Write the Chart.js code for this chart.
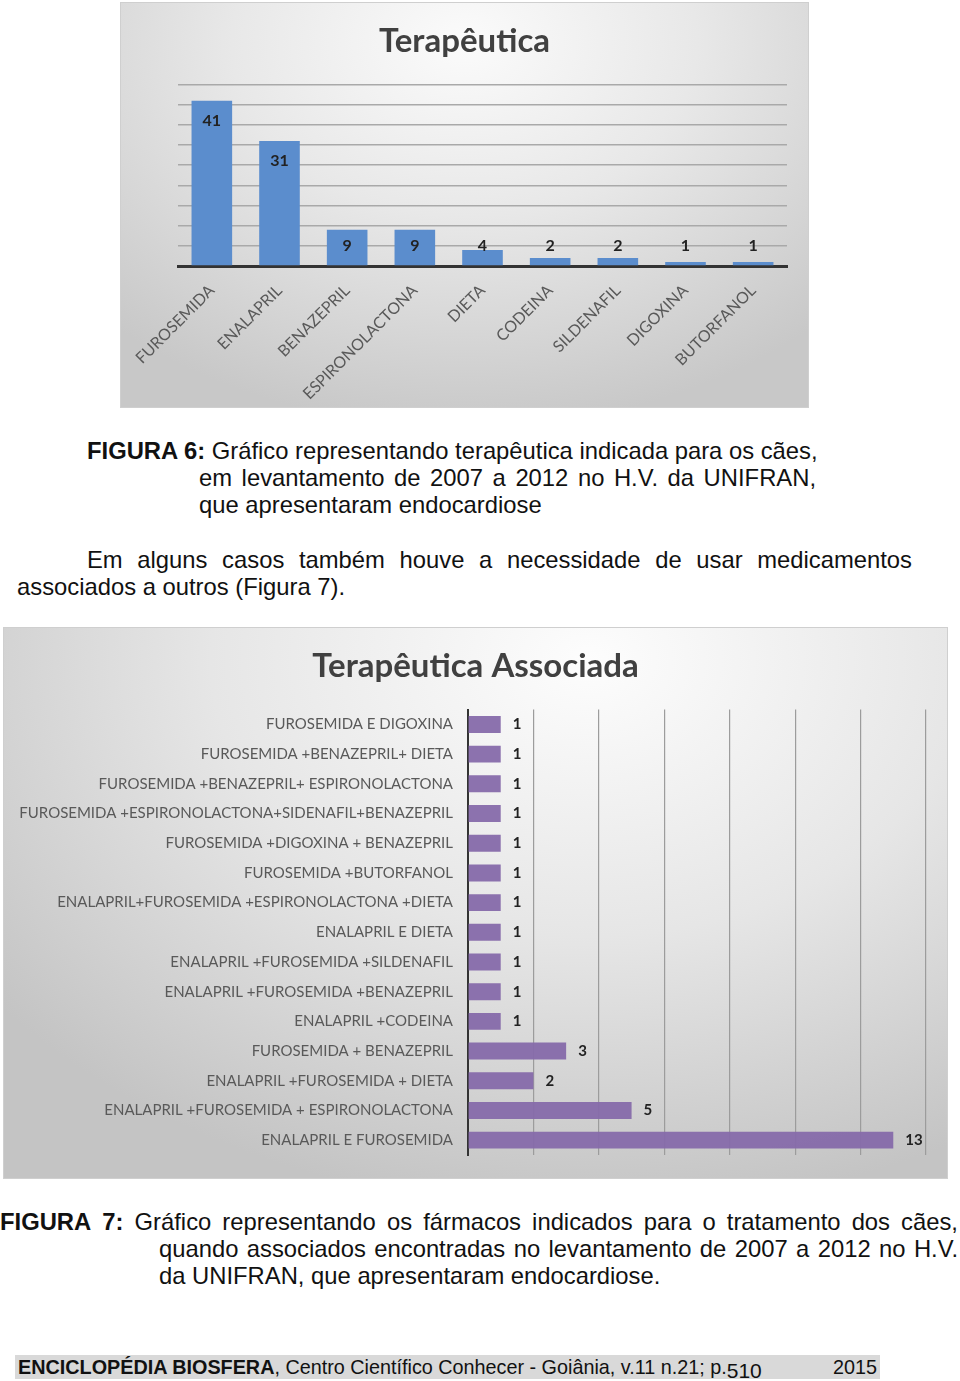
<!DOCTYPE html>
<html lang="pt">
<head>
<meta charset="utf-8">
<title>Terapêutica</title>
<script src="https://cdn.jsdelivr.net/npm/chart.js@4.4.1/dist/chart.umd.min.js"></script>
<style>
  body { margin:0; width:960px; height:1381px; background:#fff; position:relative; overflow:hidden;
         font-family:"Liberation Sans", Arial, sans-serif; color:#111; }
  .box { position:absolute; box-shadow: inset 0 0 0 1px #cfcfcf; }
  #box1 { left:120px; top:2px; width:689px; height:406px;
          background: radial-gradient(ellipse 75% 95% at 50% 10%, #fbfbfb 0%, #e8e8e8 45%, #c8c8c8 100%); }
  #box2 { left:3px; top:627px; width:945px; height:552px;
          background: radial-gradient(ellipse 80% 100% at 62% 6%, #fdfdfd 0%, #e6e6e6 50%, #c4c4c4 100%); }
  .line { position:absolute; font-size:23.8px; line-height:27px; white-space:nowrap; }
  .just { text-align:justify; text-align-last:justify; white-space:normal; height:27px; overflow:hidden; }
  #footer { position:absolute; left:15px; top:1355px; width:865px; height:24px; background:#d9d9d9;
            font-size:19.8px; line-height:24px; white-space:nowrap; }
</style>
</head>
<body>

<div class="box" id="box1"><canvas id="terapeuticaChart" width="689" height="406"></canvas></div>

<div class="line" style="left:87px; top:437px;"><b>FIGURA 6:</b> Gráfico representando terapêutica indicada para os cães,</div>
<div class="line just" style="left:199px; top:464px; width:617px;">em levantamento de 2007 a 2012 no H.V. da UNIFRAN,</div>
<div class="line" style="left:199px; top:491px;">que apresentaram endocardiose</div>
<div class="line just" style="left:87px; top:546px; width:825px;">Em alguns casos também houve a necessidade de usar medicamentos</div>
<div class="line" style="left:17px; top:573px;">associados a outros (Figura 7).</div>

<div class="box" id="box2"><canvas id="associadaChart" width="945" height="552"></canvas></div>

<div class="line just" style="left:0px; top:1208px; width:958px;"><b>FIGURA</b> <b>7:</b> Gráfico representando os fármacos indicados para o tratamento dos cães,</div>
<div class="line just" style="left:159px; top:1235px; width:799px;">quando associados encontradas no levantamento de 2007 a 2012 no H.V.</div>
<div class="line" style="left:159px; top:1262px;">da UNIFRAN, que apresentaram endocardiose.</div>

<div id="footer"><span style="position:absolute; left:3px;"><b>ENCICLOPÉDIA BIOSFERA</b>, Centro Científico Conhecer - Goiânia, v.11 n.21; p.<span style="font-size:21px; position:relative; top:4px;">510</span></span><span style="position:absolute; left:818px;">2015</span></div>

<script>
// --- DADOS ---
const drugs = ['FUROSEMIDA', 'ENALAPRIL', 'BENAZEPRIL', 'ESPIRONOLACTONA', 'DIETA', 'CODEINA', 'SILDENAFIL', 'DIGOXINA', 'BUTORFANOL'];
const drugCounts = [41, 31, 9, 9, 4, 2, 2, 1, 1];
const drugAxisMax = 45;
const drugAxisStep = 5;

const combos = [
  'FUROSEMIDA E DIGOXINA',
  'FUROSEMIDA +BENAZEPRIL+ DIETA',
  'FUROSEMIDA +BENAZEPRIL+ ESPIRONOLACTONA',
  'FUROSEMIDA +ESPIRONOLACTONA+SIDENAFIL+BENAZEPRIL',
  'FUROSEMIDA +DIGOXINA + BENAZEPRIL',
  'FUROSEMIDA +BUTORFANOL',
  'ENALAPRIL+FUROSEMIDA +ESPIRONOLACTONA +DIETA',
  'ENALAPRIL E DIETA',
  'ENALAPRIL +FUROSEMIDA +SILDENAFIL',
  'ENALAPRIL +FUROSEMIDA +BENAZEPRIL',
  'ENALAPRIL +CODEINA',
  'FUROSEMIDA + BENAZEPRIL',
  'ENALAPRIL +FUROSEMIDA + DIETA',
  'ENALAPRIL +FUROSEMIDA + ESPIRONOLACTONA',
  'ENALAPRIL E FUROSEMIDA'
];
const comboCounts = [1, 1, 1, 1, 1, 1, 1, 1, 1, 1, 1, 3, 2, 5, 13];
const comboAxisMax = 14;
const comboAxisStep = 2;

// rótulos de valor nas barras
const valueLabels = {
  id: 'valueLabels',
  afterDatasetsDraw(chart, args, opts) {
    const ctx = chart.ctx;
    const meta = chart.getDatasetMeta(0);
    const vals = chart.data.datasets[0].data;
    ctx.save();
    ctx.font = opts.font;
    ctx.fillStyle = opts.color;
    ctx.textBaseline = 'middle';
    meta.data.forEach(function(bar, i) {
      if (opts.mode === 'inside') {
        ctx.textAlign = 'center';
        ctx.fillText(vals[i], bar.x, Math.min(bar.y + opts.offset, bar.base - opts.minGap));
      } else {
        ctx.textAlign = 'left';
        ctx.fillText(vals[i], bar.x + opts.offset, bar.y);
      }
    });
    ctx.restore();
  }
};

const titleFont = { family: 'Lato', size: 33, weight: 'bold', lineHeight: 1.2 };

// eixo vazio à direita, só para reservar a margem (assim o título fica centrado no quadro)
function rightGap(w) {
  return {
    type: 'linear', position: 'right',
    ticks: { display: false },
    grid: { display: false, drawTicks: false },
    border: { display: false },
    afterFit: function(s) { s.width = w; }
  };
}

// Gráfico 1 (Terapêutica)
new Chart(document.getElementById('terapeuticaChart'), {
  type: 'bar',
  data: {
    labels: drugs,
    datasets: [{
      data: drugCounts,
      backgroundColor: '#5b8dcd',
      categoryPercentage: 1,
      barPercentage: 0.6
    }]
  },
  plugins: [valueLabels],
  options: {
    responsive: false,
    animation: false,
    layout: { padding: 0 },
    plugins: {
      legend: { display: false },
      tooltip: { enabled: false },
      title: { display: true, text: 'Terapêutica', color: '#404040', font: titleFont, padding: { top: 20, bottom: 23 } },
      valueLabels: { mode: 'inside', offset: 20, minGap: 19, font: 'bold 16px Lato', color: '#222' }
    },
    scales: {
      x: {
        grid: { display: false, drawTicks: false },
        border: { color: '#333', width: 3 },
        ticks: { minRotation: 45, maxRotation: 45, padding: 15, color: '#595959', font: { family: 'Lato', size: 16 } },
        afterFit: function(s) { s.height = 142; }
      },
      y: {
        min: 0, max: drugAxisMax,
        ticks: { stepSize: drugAxisStep, display: false },
        grid: { color: '#a9a9a9', lineWidth: 1.6, drawTicks: false },
        border: { display: false },
        afterFit: function(s) { s.width = 58; }
      },
      gap: rightGap(22)
    }
  }
});

// Gráfico 2 (Terapêutica Associada)
new Chart(document.getElementById('associadaChart'), {
  type: 'bar',
  data: {
    labels: combos,
    datasets: [{
      data: comboCounts,
      backgroundColor: 'rgba(134,106,170,0.95)',
      categoryPercentage: 1,
      barPercentage: 0.57
    }]
  },
  plugins: [valueLabels],
  options: {
    indexAxis: 'y',
    responsive: false,
    animation: false,
    layout: { padding: 0 },
    plugins: {
      legend: { display: false },
      tooltip: { enabled: false },
      title: { display: true, text: 'Terapêutica Associada', color: '#404040', font: titleFont, padding: { top: 20, bottom: 23 } },
      valueLabels: { mode: 'outside', offset: 12, font: 'bold 15px Lato', color: '#222' }
    },
    scales: {
      x: {
        min: 0, max: comboAxisMax,
        ticks: { stepSize: comboAxisStep, display: false },
        grid: { color: '#9c9c9c', lineWidth: 1.2, drawTicks: false },
        border: { display: false },
        afterFit: function(s) { s.height = 24; }
      },
      y: {
        grid: { display: false, drawTicks: false },
        border: { color: '#333', width: 2 },
        ticks: { padding: 15, color: '#595959', font: { family: 'Lato', size: 15 } },
        afterFit: function(s) { s.width = 465; }
      },
      gap: rightGap(22)
    }
  }
});
</script>
</body>
</html>
